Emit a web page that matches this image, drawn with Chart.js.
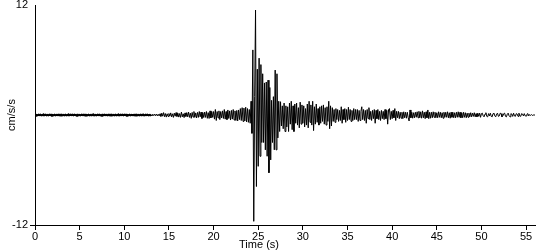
<!DOCTYPE html>
<html><head><meta charset="utf-8">
<script src="https://cdn.jsdelivr.net/npm/chart.js@4"></script>
<style>html,body{margin:0;padding:0;background:#fff}</style>
</head><body>
<canvas id="c" width="550" height="250"></canvas>
<script>
const startTime = 0;        // s
const sampleInterval = 0.1; // s
// acceleration (cm/s/s), one row = 1 second
const accel = [
 0.03,-0.03,0.02,-0.03,0.03,-0.02,0.03,-0.03,0.02,-0.03,
 0.03,-0.02,0.03,-0.03,0.02,-0.03,0.03,-0.02,0.03,-0.03,
 0.02,-0.03,0.03,-0.03,0.02,-0.02,0.03,-0.03,0.03,-0.02,
 0.03,-0.03,0.02,-0.03,0.03,-0.03,0.02,-0.03,0.03,-0.02,
 0.03,-0.02,0.03,-0.03,0.03,-0.02,0.02,-0.03,0.03,-0.03,
 0.02,-0.03,0.03,-0.02,0.03,-0.03,0.03,-0.02,0.02,-0.03,
 0.03,-0.03,0.02,-0.03,0.03,-0.02,0.03,-0.03,0.02,-0.03,
 0.03,-0.02,0.03,-0.03,0.02,-0.03,0.03,-0.03,0.03,-0.02,
 0.02,-0.03,0.03,-0.03,0.03,-0.02,0.03,-0.03,0.02,-0.03,
 0.03,-0.03,0.02,-0.02,0.03,-0.03,0.03,-0.02,0.03,-0.03,
 0.03,-0.02,0.03,-0.03,0.02,-0.03,0.03,-0.03,0.02,-0.02,
 0.02,-0.03,0.03,-0.02,0.03,-0.03,0.02,-0.03,0.03,-0.03,
 0.03,-0.03,0.02,-0.03,0.03,-0.02,0.03,-0.03,0.02,-0.03,
 0.03,-0.08,0.08,-0.07,0.09,-0.08,0.1,-0.09,0.08,-0.1,
 0.13,-0.15,0.2,-0.13,0.26,-0.18,0.16,-0.23,0.13,-0.16,
 0.16,-0.13,0.23,-0.2,0.13,-0.26,0.2,-0.13,0.26,-0.16,
 0.2,-0.23,0.16,-0.26,0.32,-0.2,0.13,-0.28,0.23,-0.16,
 0.26,-0.2,0.32,-0.26,0.2,-0.36,0.28,-0.23,0.38,-0.26,
 0.23,-0.32,0.28,-0.26,0.38,-0.2,0.32,-0.38,0.26,-0.28,
 0.32,-0.26,0.38,-0.36,0.26,-0.38,0.45,-0.32,0.38,-0.26,
 0.38,-0.45,0.6,-0.6,0.38,-0.32,0.45,-0.5,0.38,-0.32,
 0.45,-0.38,0.6,-0.45,0.38,-0.5,0.55,-0.38,0.45,-0.55,
 0.5,-0.45,0.6,-0.55,0.45,-0.6,0.5,-0.65,0.55,-0.5,
 0.7,-0.6,0.8,-0.7,0.75,-0.65,0.85,-0.75,0.7,-0.8,
 0.6,-0.9,1.5,-2.0,7.1,-11.6,2.0,11.45,-7.8,5.0,
 -5.6,6.2,-4.5,5.5,-3.0,4.5,-3.0,3.5,-3.8,3.6,
 -4.5,3.8,-6.3,3.0,-4.9,1.6,-3.0,2.0,-3.8,4.9,
 -3.8,4.5,-2.5,1.5,-1.8,1.45,-1.2,1.0,-1.5,1.3,
 -1.8,1.0,-1.3,0.9,-1.8,1.3,-1.0,1.5,-1.6,1.0,
 -1.8,1.2,-0.9,1.3,-1.1,0.8,-1.4,1.4,-1.0,1.1,
 -0.9,1.0,-1.3,0.7,-1.1,1.2,-1.4,1.5,-0.8,1.1,
 -1.1,1.5,-1.7,0.9,-1.0,1.2,-0.8,0.7,-1.1,0.9,
 -0.9,1.0,-0.7,1.1,-1.0,0.8,-1.1,0.9,-0.7,1.5,
 -1.5,1.0,-1.2,0.8,-0.7,0.6,-0.8,0.7,-0.5,0.6,
 -0.7,0.5,-0.6,0.9,-0.9,0.6,-0.5,0.7,-0.8,0.6,
 -0.6,0.85,-0.5,0.6,-0.7,0.5,-0.6,0.7,-0.5,0.6,
 -0.5,0.6,-0.7,0.5,-0.6,0.4,0.9,-0.5,0.6,-0.6,
 0.5,-0.9,0.6,-0.4,0.8,-0.5,0.4,-0.6,0.5,-0.4,
 0.6,-0.9,0.5,-0.4,0.6,-0.5,0.4,-0.6,0.5,-0.4,
 0.4,-0.5,0.6,-0.4,0.5,-1.0,0.6,0.7,-0.5,0.4,
 -0.4,0.5,-0.3,0.7,-0.6,0.4,-0.3,0.4,-0.4,0.3,
 -0.35,0.3,-0.4,0.35,-0.3,0.3,-0.35,0.3,-0.3,-0.65,
 0.55,-0.3,0.3,-0.35,0.25,-0.3,0.3,-0.25,0.35,-0.3,
 0.4,-0.3,0.35,-0.35,0.45,-0.3,0.3,-0.4,0.35,-0.3,
 0.55,-0.4,0.3,-0.35,0.3,-0.3,0.35,-0.25,0.3,-0.3,
 0.25,-0.3,0.35,-0.25,0.3,-0.3,0.25,-0.35,0.3,-0.25,
 0.3,-0.25,0.35,-0.3,0.25,-0.35,0.3,-0.25,0.3,-0.3,
 0.25,-0.3,0.3,-0.25,0.35,-0.25,0.3,-0.3,0.25,-0.3,
 0.3,-0.25,0.25,-0.3,0.2,-0.25,0.2,-0.2,0.25,-0.2,
 0.2,-0.15,0.25,-0.2,0.15,-0.2,0.2,-0.15,0.2,-0.25,
 0.15,0.2,-0.1,-0.2,0.1,0.25,-0.15,-0.2,0.15,-0.1,
 0.2,-0.15,-0.2,0.15,0.2,-0.1,-0.2,0.1,0.2,-0.15,
 -0.1,0.2,0.15,-0.2,-0.1,0.15,0.2,-0.15,-0.2,0.1,
 0.2,-0.1,-0.2,0.15,0.1,-0.15,0.2,-0.1,-0.15,0.15,
 0.1,-0.15,0.2,-0.1,-0.15,0.15,0.1,-0.1,0.15,-0.1,
 -0.1,0.1,0.15,-0.1,0.05,-0.05,0.05,-0.05,0.0,0.0,
 0.0
];
const xTickValues = [0,5,10,15,20,25,30,35,40,45,50,55];
const yTickValues = [-12,12];
const xRange = [0,56];
const yRange = [-12,12];
const xTitle = 'Time (s)';
const yTitle = 'cm/s/s';
const quietUntil = 13; // s, pre-event segment drawn heavier

const points = accel.map((v,i)=>({x: +(startTime + i*sampleInterval).toFixed(2), y: v}));
const font = {family: '"Liberation Sans", Arial, sans-serif', size: 11};

const xTitlePlugin = {
  id: 'xTitle',
  afterDraw(chart) {
    const ctx = chart.ctx;
    ctx.save();
    ctx.font = '11px "Liberation Sans", Arial, sans-serif';
    ctx.fillStyle = '#000';
    ctx.textAlign = 'center';
    ctx.textBaseline = 'middle';
    ctx.fillText(xTitle, 259, 245);
    ctx.restore();
  }
};

new Chart(document.getElementById('c'), {
  type: 'line',
  data: {datasets: [{
    data: points, borderColor: '#000', borderWidth: 1, pointRadius: 0, tension: 0, fill: false,
    segment: {borderWidth: c => (c.p1.parsed.x <= quietUntil ? 2 : 1)}
  }]},
  options: {
    responsive: false, animation: false,
    layout: {padding: {left: 0, right: 15, top: 5, bottom: 0}},
    plugins: {legend: {display: false}, tooltip: {enabled: false}},
    scales: {
      x: {
        type: 'linear', min: xRange[0], max: xRange[1],
        afterBuildTicks: s => { s.ticks = xTickValues.map(v => ({value: v})); },
        ticks: {font, color: '#000', padding: 0, maxRotation: 0, autoSkip: false},
        grid: {drawOnChartArea: false, color: '#000', tickLength: 5, tickWidth: 1},
        border: {color: '#000', width: 1},
        title: {display: false},
        afterFit: s => { s.height = 25; s.paddingLeft = 0; s.paddingRight = 0; }
      },
      y: {
        type: 'linear', min: yRange[0], max: yRange[1],
        afterBuildTicks: s => { s.ticks = yTickValues.map(v => ({value: v})); },
        ticks: {font, color: '#000', padding: 2},
        grid: {drawOnChartArea: false, tickLength: 5, tickWidth: 1,
               color: ctx => (ctx.tick && ctx.tick.value === -12) ? '#000' : 'rgba(0,0,0,0)'},
        border: {color: '#000', width: 1},
        title: {display: true, text: yTitle, font, color: '#000', padding: {top: 5, bottom: 0}},
        afterFit: s => { s.width = 35; s.paddingTop = 0; s.paddingBottom = 0; }
      }
    }
  },
  plugins: [xTitlePlugin]
});
</script>
</body></html>
